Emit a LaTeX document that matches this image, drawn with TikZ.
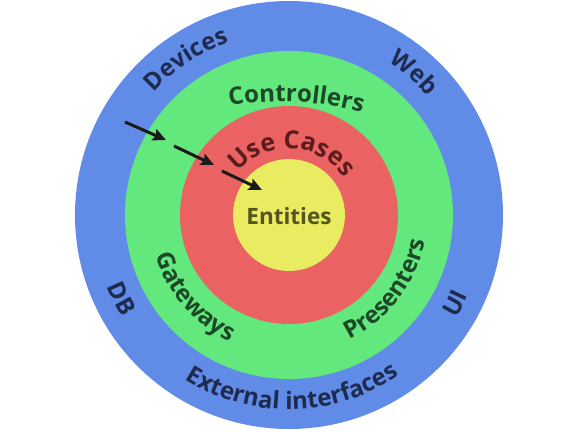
\documentclass[tikz,border=0pt]{standalone}
\usepackage{fontspec}
\setmainfont{Open Sans}
\usepackage{tikz}
\usetikzlibrary{arrows.meta, decorations.text}
\definecolor{outerblue}{RGB}{96,140,232}
\definecolor{ifgreen}{RGB}{98,232,124}
\definecolor{ucred}{RGB}{234,98,98}
\definecolor{entyellow}{RGB}{233,235,96}
\definecolor{navytext}{RGB}{30,42,78}
\definecolor{greentext}{RGB}{28,72,40}
\definecolor{redtext}{RGB}{92,28,30}
\definecolor{olivetext}{RGB}{85,85,32}
\definecolor{arrowgray}{RGB}{26,26,26}
\newcommand\lblfont{\bfseries\fontsize{24}{24}\selectfont}
\newcommand\ucfont{\bfseries\fontsize{25}{25}\selectfont}

\begin{document}
\begin{tikzpicture}[x=1pt, y=1pt,
    ring/.style={circle, draw=none, inner sep=0pt},
    lbl/.style={decorate, decoration={text along path, text align=center}},
    edge/.style={-{Stealth[length=13pt, width=12pt, inset=2pt]}, line width=3pt, color=arrowgray}
]
\useasboundingbox (-289,-216) rectangle (289,215);

% the four layers, outside in
\node[ring, fill=outerblue, minimum size=428pt] (ext) at (0,0) {};
\node[ring, fill=ifgreen, minimum size=328pt] (adp) at (0,0) {};
\node[ring, fill=ucred, minimum size=218pt] (uc) at (0,0) {};
\node[ring, fill=entyellow, minimum size=112pt] (ent) at (0,0) {};

\node[font=\bfseries\fontsize{22.5}{22.5}\selectfont, text=olivetext, anchor=base] (entl) at (0,-9) {Entities};

% labels on the top half run clockwise
\path[lbl, decoration={text color=navytext, text={|\lblfont|Devices}}]
    (153.5:182.5) arc[start angle=153.5, end angle=93.5, radius=182.5];
\path[lbl, decoration={text color=navytext, text={|\lblfont|Web}}]
    (78.7:182.5) arc[start angle=78.7, end angle=18.7, radius=182.5];
\path[lbl, shift={(-8,-178)}, decoration={text color=greentext, text={|\lblfont|Controllers}}]
    (112:291.5) arc[start angle=112, end angle=62, radius=291.5];
\path[lbl, decoration={text color=redtext, text={|\ucfont|Use Cases}}]
    (157:66.5) arc[start angle=157, end angle=17, radius=66.5];

% labels on the bottom half run counter-clockwise
\path[lbl, decoration={text color=navytext, text={|\lblfont|DB}}]
    (186.5:195.5) arc[start angle=186.5, end angle=226.5, radius=195.5];
\path[lbl, decoration={text color=navytext, text={|\lblfont|UI}}]
    (312:196.5) arc[start angle=312, end angle=352, radius=196.5];
\path[lbl, decoration={text color=navytext, text={|\lblfont|External interfaces}}]
    (211:194.5) arc[start angle=211, end angle=331, radius=194.5];
\path[lbl, decoration={text color=greentext, text={|\lblfont|Gateways}}]
    (181:139.5) arc[start angle=181, end angle=261, radius=139.5];
\path[lbl, decoration={text color=greentext, text={|\lblfont|Presenters}}]
    (272.5:138.5) arc[start angle=272.5, end angle=372.5, radius=138.5];

% dependency arrows pointing inwards
\coordinate (a1) at (-164,93);
\coordinate (b1) at (-123,75);
\coordinate (a2) at (-115,69);
\coordinate (b2) at (-75,50);
\coordinate (a3) at (-67,44);
\coordinate (b3) at (-27,25);
\draw[edge] (a1) -- (b1);
\draw[edge] (a2) -- (b2);
\draw[edge] (a3) -- (b3);
\end{tikzpicture}
\end{document}
